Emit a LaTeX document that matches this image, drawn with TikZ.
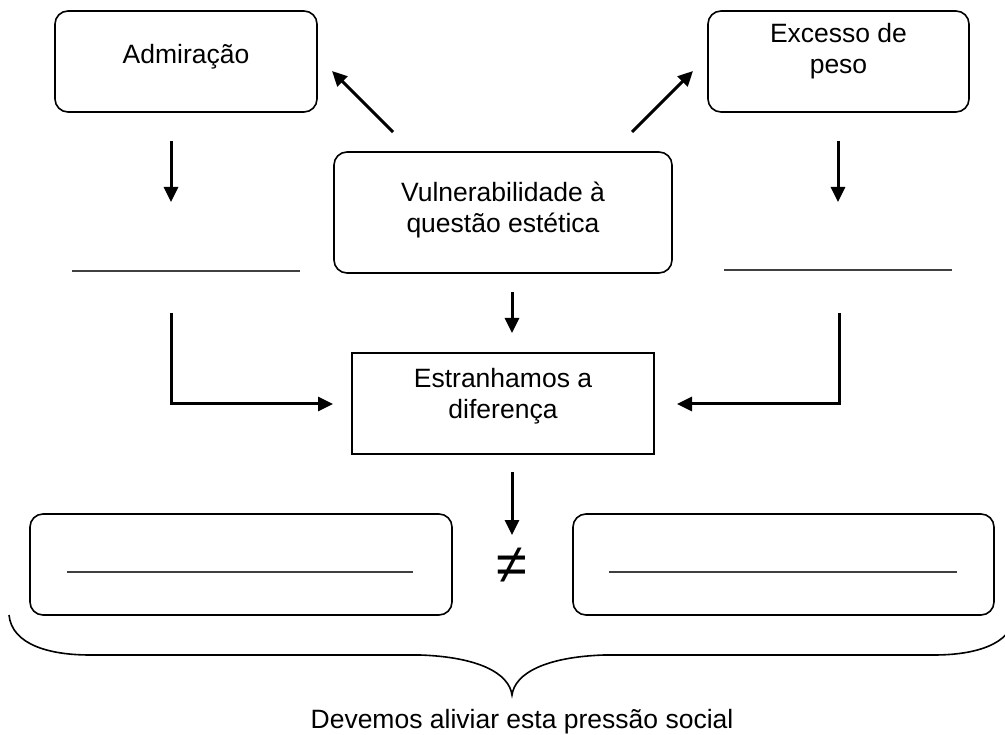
\documentclass[tikz,border=0pt]{standalone}
\usepackage{fontspec}
\setmainfont{Liberation Sans}
\usetikzlibrary{arrows.meta}
\begin{document}
\begin{tikzpicture}[x=1pt,y=-1pt,
  rbox/.style={draw=black, line width=1.6pt, rounded corners=13pt, inner sep=0pt},
  sbox/.style={draw=black, line width=1.5pt, inner sep=0pt},
  txt/.style={anchor=base, inner sep=0pt, font=\fontsize{26.5}{31}\selectfont},
  arr/.style={line width=3pt, line join=miter, -{Triangle[length=15pt,width=14pt]}},
  blank/.style={line width=1.2pt, draw=black!75},
  bracestyle/.style={line width=1.6pt}]
\useasboundingbox (0,0) rectangle (1005,735);
% boxes
\node[rbox, minimum width=262pt, minimum height=101pt] (adm) at (186,61.5) {};
\node[rbox, minimum width=261pt, minimum height=101pt] (exc) at (838.5,61.5) {};
\node[rbox, minimum width=338pt, minimum height=121pt] (vul) at (503,212.5) {};
\node[sbox, minimum width=302pt, minimum height=101pt] (est) at (503,403.5) {};
\node[rbox, minimum width=422pt, minimum height=101pt] (bl) at (241,564.5) {};
\node[rbox, minimum width=421pt, minimum height=101pt] (br) at (783.5,564.5) {};
% texts
\node[txt] (tadm) at (186,64) {Admiração};
\node[txt] (texc1) at (838.5,43) {Excesso de};
\node[txt] (texc2) at (838.5,74) {peso};
\node[txt] (tvul1) at (503,202) {Vulnerabilidade à};
\node[txt] (tvul2) at (503,233) {questão estética};
\node[txt] (test1) at (503,388) {Estranhamos a};
\node[txt] (test2) at (503,419) {diferença};
\node[inner sep=0pt, font=\fontsize{56}{60}\selectfont] (neq) at (512,566) {≠};
\node[txt] (tbottom) at (522,728) {Devemos aliviar esta pressão social};
% blank lines
\coordinate (l1a) at (72,271);  \coordinate (l1b) at (300,271);
\coordinate (l2a) at (724,270); \coordinate (l2b) at (952,270);
\coordinate (l3a) at (67,572);  \coordinate (l3b) at (413,572);
\coordinate (l4a) at (609,572); \coordinate (l4b) at (957,572);
\draw[blank] (l1a) -- (l1b);
\draw[blank] (l2a) -- (l2b);
\draw[blank] (l3a) -- (l3b);
\draw[blank] (l4a) -- (l4b);
% arrow end points
\coordinate (a1s) at (393,132); \coordinate (a1e) at (332,71);
\coordinate (a2s) at (632,132); \coordinate (a2e) at (693,71);
\coordinate (a3s) at (171,141); \coordinate (a3e) at (171,202);
\coordinate (a4s) at (838,141); \coordinate (a4e) at (838,202);
\coordinate (a5s) at (512,292); \coordinate (a5e) at (512,333);
\coordinate (a6s) at (171,313); \coordinate (a6e) at (333,404);
\coordinate (a7s) at (839,313); \coordinate (a7e) at (677,404);
\coordinate (a8s) at (512,472); \coordinate (a8e) at (512,535);
\draw[arr] (a1s) -- (a1e);
\draw[arr] (a2s) -- (a2e);
\draw[arr] (a3s) -- (a3e);
\draw[arr] (a4s) -- (a4e);
\draw[arr] (a5s) -- (a5e);
\draw[arr] (a6s) |- (a6e);
\draw[arr] (a7s) |- (a7e);
\draw[arr] (a8s) -- (a8e);
% brace
\coordinate (bra) at (9,615);
\coordinate (brtip) at (512,695);
\coordinate (brb) at (1015,615);
\draw[bracestyle] (bra) .. controls (12,645) and (50,655) .. (90,655) -- (420,655)
  .. controls (478,657) and (509,673) .. (brtip)
  .. controls (515,673) and (546,657) .. (604,655) -- (934,655)
  .. controls (974,655) and (1012,645) .. (brb);
\end{tikzpicture}
\end{document}
